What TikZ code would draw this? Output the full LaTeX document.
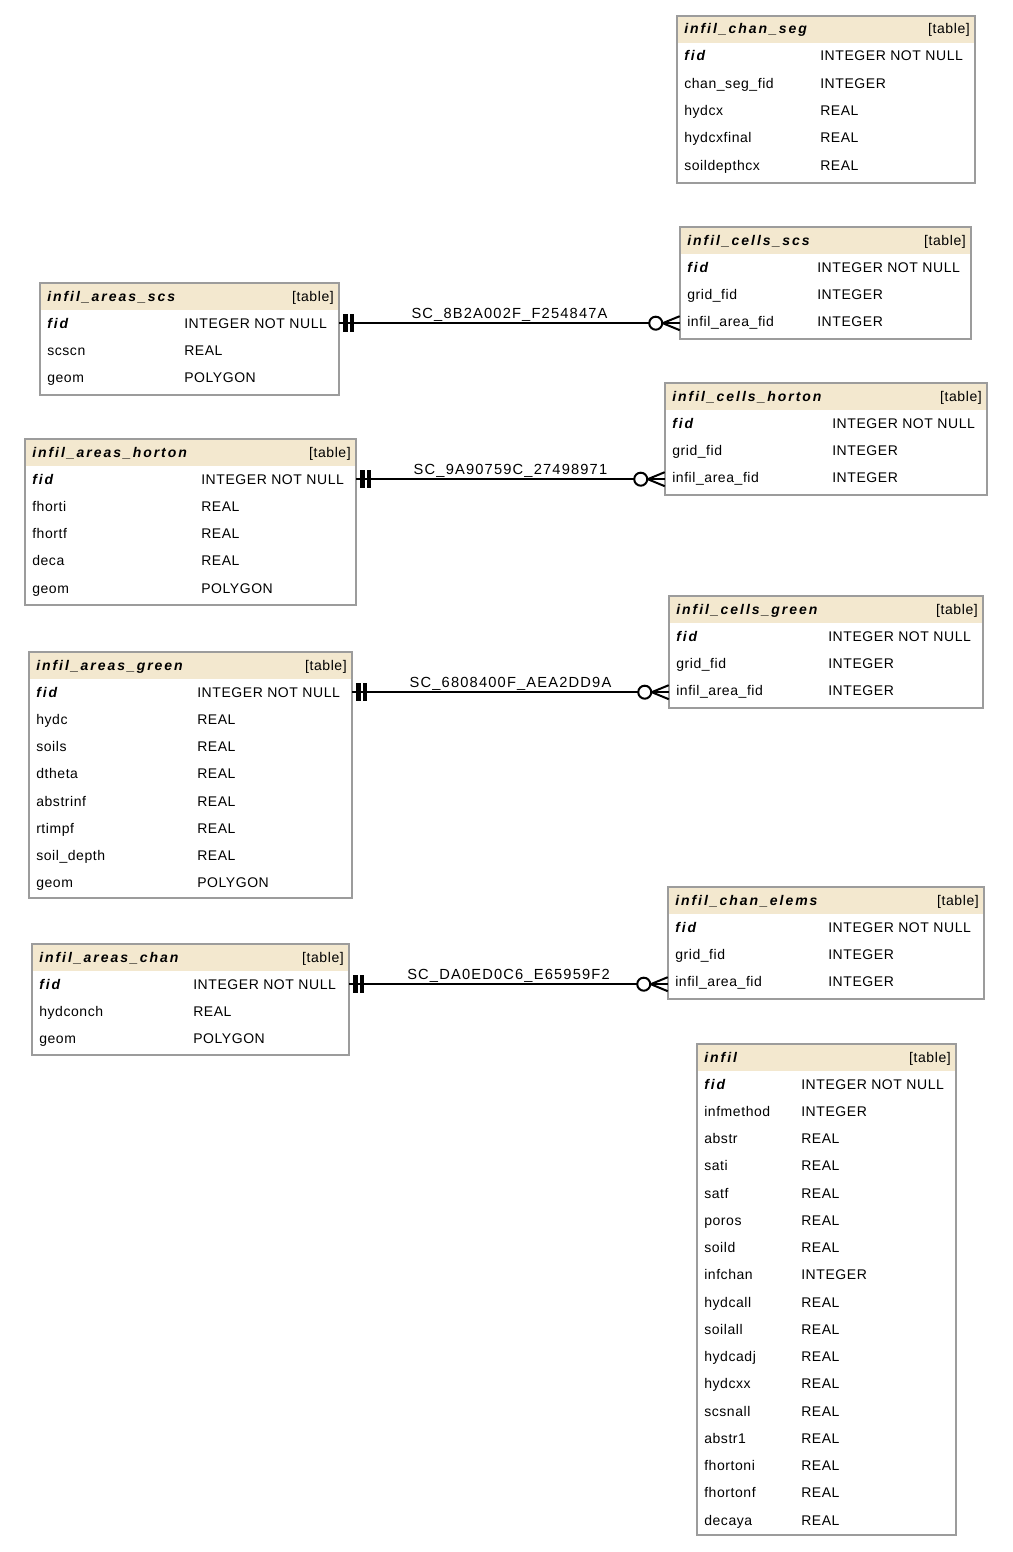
\documentclass[tikz,border=0pt]{standalone}
\usepackage{fontspec}
\setmainfont{Liberation Sans}[LetterSpace=4]
\newfontfamily\hdrfont{Liberation Sans}[LetterSpace=14]
\newfontfamily\lblfont{Liberation Sans}[LetterSpace=8]
\usetikzlibrary{fit,calc}
\definecolor{hdrfill}{HTML}{F3E8CF}
\definecolor{bordergray}{HTML}{9C9C9C}

\newcommand\erdtable[8]{%
  \node[fit={(#3,#4) (#5,#6)}, inner sep=0] (#1) {};
  \fill[hdrfill] (#3,#4) rectangle (#5,#4+27);
  \node[titletext] (#1-title) at (#3+7,#4+18) {#2};
  \node[tagtext] (#1-tag) at (#5-5,#4+18) {[table]};
  \node[titletext] (#1-r0) at (#3+7,#4+45) {fid};
  \node[celltext] (#1-t0) at (#7,#4+45) {INTEGER NOT NULL};
  \foreach \fname/\ftype [count=\k] in {#8} {
    \node[celltext] (#1-r\k) at (#3+7,#4+45+27.25*\k) {\fname};
    \node[celltext] (#1-t\k) at (#7,#4+45+27.25*\k) {\ftype};
  }
  \draw[frame] (#1.north west) rectangle (#1.south east);
}

\newcommand\erdlink[3]{%
  \coordinate (#1-#2-a) at (#1.east |- #1-t0);
  \coordinate (#1-#2-b) at (#2.west |- #1-t0);
  \draw[linkline] (#1-#2-a) -- node[linklabel] {#3} (#1-#2-b);
  \fill ($(#1-#2-a)+(4,-9)$) rectangle ++(4.5,18);
  \fill ($(#1-#2-a)+(11,-9)$) rectangle ++(4,18);
  \draw[linkline] ($(#1-#2-b)+(-17,0)$) -- ($(#1-#2-b)+(0,-7)$);
  \draw[linkline] ($(#1-#2-b)+(-17,0)$) -- ($(#1-#2-b)+(0,7)$);
  \draw[linkline, fill=white] ($(#1-#2-b)+(-24,0)$) circle[radius=6.5];
}

\begin{document}
\begin{tikzpicture}[x=0.75pt,y=-0.75pt,
  celltext/.style={anchor=base west, inner sep=0, font=\fontsize{10.5}{12}\selectfont},
  titletext/.style={anchor=base west, inner sep=0, font=\hdrfont\fontsize{10.5}{12}\selectfont\bfseries\itshape},
  tagtext/.style={anchor=base east, inner sep=0, font=\fontsize{10.5}{12}\selectfont},
  frame/.style={draw=bordergray, line width=1.5pt},
  linkline/.style={draw=black, line width=1.5pt},
  linklabel/.style={above, inner sep=0.8pt, font=\lblfont\fontsize{11}{13}\selectfont}]
\fill[white] (0,0) rectangle (1013,1552);
\useasboundingbox (0,0) rectangle (1013,1552);

\erdtable{chanseg}{infil\_chan\_seg}{677}{16}{975}{183}{820}{chan\_seg\_fid/INTEGER, hydcx/REAL, hydcxfinal/REAL, soildepthcx/REAL}
\erdtable{cellsscs}{infil\_cells\_scs}{680}{227}{971}{339}{817}{grid\_fid/INTEGER, infil\_area\_fid/INTEGER}
\erdtable{areasscs}{infil\_areas\_scs}{40}{283}{339}{395}{184}{scscn/REAL, geom/POLYGON}
\erdtable{cellshorton}{infil\_cells\_horton}{665}{383}{987}{495}{832}{grid\_fid/INTEGER, infil\_area\_fid/INTEGER}
\erdtable{areashorton}{infil\_areas\_horton}{25}{439}{356}{605}{201}{fhorti/REAL, fhortf/REAL, deca/REAL, geom/POLYGON}
\erdtable{cellsgreen}{infil\_cells\_green}{669}{596}{983}{708}{828}{grid\_fid/INTEGER, infil\_area\_fid/INTEGER}
\erdtable{areasgreen}{infil\_areas\_green}{29}{652}{352}{898}{197}{hydc/REAL, soils/REAL, dtheta/REAL, abstrinf/REAL, rtimpf/REAL, soil\_depth/REAL, geom/POLYGON}
\erdtable{chanelems}{infil\_chan\_elems}{668}{887}{984}{999}{828}{grid\_fid/INTEGER, infil\_area\_fid/INTEGER}
\erdtable{areaschan}{infil\_areas\_chan}{32}{944}{349}{1055}{193}{hydconch/REAL, geom/POLYGON}
\erdtable{infil}{infil}{697}{1044}{956}{1535}{801}{infmethod/INTEGER, abstr/REAL, sati/REAL, satf/REAL, poros/REAL, soild/REAL, infchan/INTEGER, hydcall/REAL, soilall/REAL, hydcadj/REAL, hydcxx/REAL, scsnall/REAL, abstr1/REAL, fhortoni/REAL, fhortonf/REAL, decaya/REAL}

\erdlink{areasscs}{cellsscs}{SC\_8B2A002F\_F254847A}
\erdlink{areashorton}{cellshorton}{SC\_9A90759C\_27498971}
\erdlink{areasgreen}{cellsgreen}{SC\_6808400F\_AEA2DD9A}
\erdlink{areaschan}{chanelems}{SC\_DA0ED0C6\_E65959F2}
\end{tikzpicture}
\end{document}
